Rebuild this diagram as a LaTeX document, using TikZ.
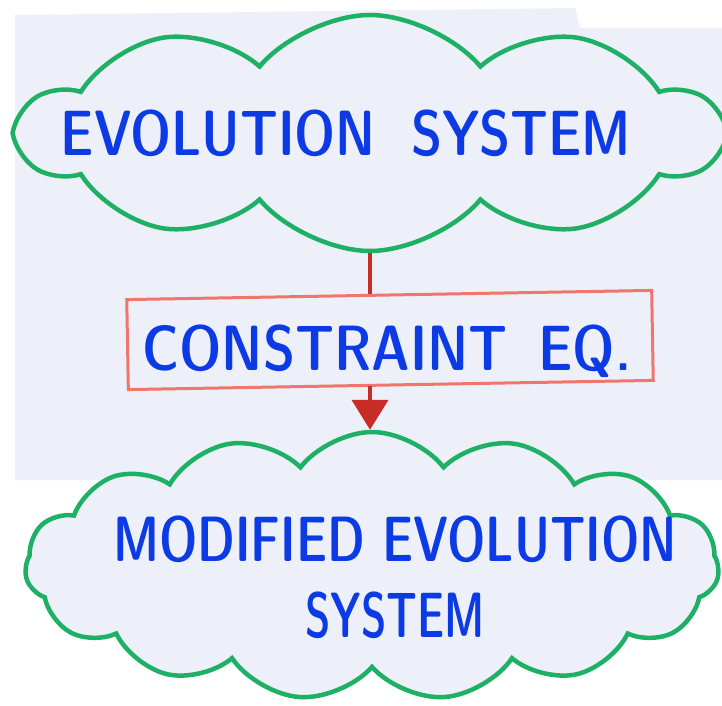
\documentclass[tikz,border=0pt]{standalone}
\usepackage{fontspec}
\newfontfamily\handfont{lmsansdemicond10-regular}[Extension=.otf]
\usetikzlibrary{shapes.symbols,arrows.meta}
\definecolor{paper}{RGB}{237,240,248}
\definecolor{cloudgreen}{RGB}{30,176,100}
\definecolor{inkblue}{RGB}{12,58,228}
\definecolor{arrowred}{RGB}{200,44,38}
\definecolor{boxred}{RGB}{240,118,108}
\tikzset{
	cloudbox/.style={cloud, cloud ignores aspect, draw=cloudgreen, fill=paper, line width=4.5pt},
	eqbox/.style={rectangle, draw=boxred, line width=3pt, minimum width=525pt, minimum height=90pt, rotate=1},
	handtext/.style={text=inkblue, font=\handfont\fontsize{64}{76}\selectfont, align=center, inner sep=0pt},
	redline/.style={draw=arrowred, line width=4.5pt}
}
\begin{document}
\begin{tikzpicture}[x=1pt,y=1pt]
	\useasboundingbox (0,0) rectangle (722,705);
	\fill[white] (0,0) rectangle (722,705);
	\fill[paper] (15,690) -- (575,697) -- (580,677) -- (722,677) -- (722,225) -- (15,225) -- cycle;% the sheet
	
	\node[cloudbox, cloud puffs=10, cloud puff arc=100, minimum width=700pt, minimum height=236pt] (evo) at (370,572) {};
	\node[cloudbox, cloud puffs=15, cloud puff arc=105, minimum width=694pt, minimum height=268pt] (mod) at (372,139) {};
	\node[eqbox] (eq) at (390,365) {};
	
	\node[handtext] (evotext) at (346,572) {\scalebox{0.92}[1]{EVOLUTION\hspace{0.6em}SYSTEM}};
	\node[handtext] (eqtext) at (387,354) {\scalebox{0.95}[1]{CONSTRAINT\hspace{0.5em}EQ.}};
	\node[handtext] (modtext) at (395,128) {\scalebox{0.86}[1]{MODIFIED EVOLUTION}\\\scalebox{0.75}[1]{SYSTEM}};
	
	\draw[redline] (evo.south) -- (evo.south |- eq.north);
	\draw[redline, -{Triangle[width=36pt,length=30pt]}] (evo.south |- eq.south) -- (evo.south |- mod.north);
\end{tikzpicture}
\end{document}
